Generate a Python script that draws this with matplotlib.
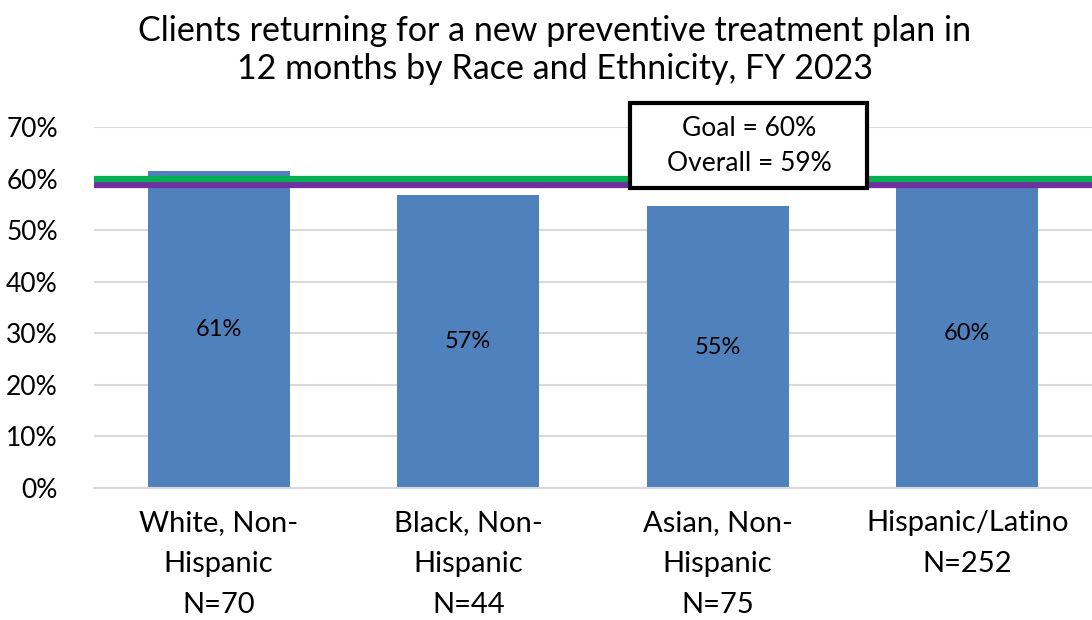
import numpy as np
import matplotlib.pyplot as plt
from matplotlib.patches import Rectangle

plt.rcParams['font.family'] = ['Lato', 'DejaVu Sans']

# data
categories = ['White, Non-\nHispanic\nN=70', 'Black, Non-\nHispanic\nN=44',
              'Asian, Non-\nHispanic\nN=75', 'Hispanic/Latino\nN=252']
values = [61.4, 56.8, 54.6, 59.8]
value_labels = ['61%', '57%', '55%', '60%']
goal = 60
overall = 58.7
yticks = [0, 10, 20, 30, 40, 50, 60, 70]

fig = plt.figure(figsize=(10.92, 6.2), dpi=100)
ax = fig.add_axes([0.086, 0.213, 0.914, 0.582])

x = np.arange(len(categories))
ax.bar(x, values, width=0.57, color='#4F81BD', zorder=2)
for xi, v, lab in zip(x, values, value_labels):
    ax.text(xi, v / 2, lab, ha='center', va='center', fontsize=17, color='black', zorder=3)

ax.axhline(overall, color='#7030A0', lw=4.5, zorder=4)
ax.axhline(goal, color='#00B050', lw=4.5, zorder=5)

ax.set_xlim(-0.5, 3.5)
ax.set_ylim(0, 70)
ax.set_yticks(yticks)
ax.set_yticklabels([f'{t}%' for t in yticks], fontsize=19)
ax.set_xticks(x)
ax.set_xticklabels(categories, fontsize=21, linespacing=1.7, va='top')
ax.tick_params(length=0)
ax.tick_params(axis='y', pad=26)
ax.tick_params(axis='x', pad=16)
ax.grid(axis='y', color='#D9D9D9', lw=1.5, zorder=0)
for s in ['left', 'right', 'top']:
    ax.spines[s].set_visible(False)
ax.spines['bottom'].set_color('#D9D9D9')
ax.spines['bottom'].set_linewidth(1.5)

# goal / overall box
box = Rectangle((1.65, 58.1), 0.95, 16.5, facecolor='white', edgecolor='black',
                lw=3, zorder=6, clip_on=False)
ax.add_patch(box)
ax.text(2.125, 66.4, 'Goal = 60%\nOverall = 59%', ha='center', va='center',
        fontsize=19, linespacing=1.5, zorder=7)

fig.text(0.508, 0.919, 'Clients returning for a new preventive treatment plan in\n'
         '12 months by Race and Ethnicity, FY 2023', ha='center', va='center',
         fontsize=24.5, linespacing=1.25)

fig.savefig('out.png', dpi=100)
